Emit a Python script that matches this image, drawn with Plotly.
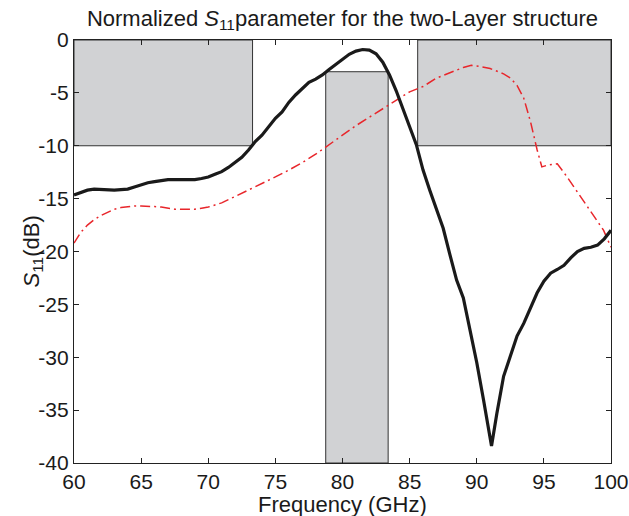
import plotly.graph_objects as go

# Measured S11 (black solid)
freq_meas = [60, 60.5, 61, 61.5, 62, 62.5, 63, 63.5, 64, 64.5, 65, 65.5, 66, 66.5, 67, 67.5,
             68, 68.5, 69, 69.5, 70, 70.5, 71, 71.5, 72, 72.5, 73, 73.5, 74, 74.5, 75, 75.5,
             76, 76.5, 77, 77.5, 78, 78.5, 79, 79.5, 80, 80.5, 81, 81.5, 82, 82.5, 83, 83.5,
             84, 84.5, 85, 85.5, 86, 86.5, 87, 87.5, 88, 88.5, 89, 89.5, 90, 90.5, 91, 91.1,
             91.5, 92, 92.5, 93, 93.5, 94, 94.5, 95, 95.5, 96, 96.5, 97, 97.5, 98, 98.5, 99,
             99.5, 100]
s11_meas = [-14.65, -14.4, -14.2, -14.1, -14.15, -14.2, -14.2, -14.15, -14.1, -13.9, -13.7,
            -13.5, -13.4, -13.3, -13.2, -13.2, -13.2, -13.2, -13.2, -13.1, -12.95, -12.7,
            -12.45, -12.05, -11.6, -11.1, -10.4, -9.6, -9.0, -8.2, -7.4, -6.8, -5.9, -5.2,
            -4.6, -4.0, -3.7, -3.3, -2.8, -2.3, -1.8, -1.35, -1.05, -0.9, -0.95, -1.3, -2.1,
            -3.3, -4.8, -6.6, -8.2, -9.9, -12.3, -14.2, -16.0, -17.8, -20.3, -22.7, -24.4,
            -27.4, -30.5, -34.0, -37.6, -38.4, -35.3, -31.8, -29.9, -28.0, -26.8, -25.3,
            -23.9, -22.8, -22.05, -21.7, -21.3, -20.6, -20.0, -19.7, -19.6, -19.4, -18.8, -18.0]

# Simulated S11 (red dash-dot)
freq_sim = [60, 60.5, 61, 61.5, 62, 62.5, 63, 63.5, 64, 64.5, 65, 65.5, 66, 66.5, 67, 67.5,
            68, 68.5, 69, 69.5, 70, 70.5, 71, 71.5, 72, 72.5, 73, 73.5, 74, 75, 76, 77, 78,
            79, 80, 81, 82, 83, 84, 85, 86, 87, 88, 89, 89.6, 90, 91, 92, 92.5, 93, 93.5, 94,
            94.5, 94.85, 95.35, 96, 96.7, 97.7, 98.7, 99.45, 100]
s11_sim = [-19.2, -18.2, -17.5, -17.0, -16.6, -16.3, -16.0, -15.85, -15.75, -15.7, -15.7,
           -15.7, -15.75, -15.8, -15.9, -16.0, -16.0, -16.0, -16.0, -15.9, -15.8, -15.6,
           -15.4, -15.1, -14.8, -14.5, -14.2, -13.9, -13.6, -12.95, -12.3, -11.6, -10.8,
           -9.9, -9.0, -8.1, -7.3, -6.5, -5.7, -4.9, -4.4, -3.6, -3.1, -2.6, -2.4, -2.45,
           -2.7, -3.2, -3.6, -4.3, -5.5, -7.7, -10.4, -12.0, -11.8, -11.7, -12.9, -14.8,
           -16.7, -18.0, -19.6]

# Spec mask regions (grey boxes)
mask_f_lo = [60, 78.75, 85.6]
mask_f_hi = [73.3, 83.4, 100]
mask_db_top = [0, -3, 0]
mask_db_bot = [-10, -40, -10]

x_ticks = [60, 65, 70, 75, 80, 85, 90, 95, 100]
x_ticktext = ["60", "65", "70", "75", "80", "85", "90", "95", "100"]
y_ticks = [0, -5, -10, -15, -20, -25, -30, -35, -40]
y_ticktext = ["0", "-5", "-10", "-15", "-20", "-25", "-30", "-35", "-40"]

FONT = "Liberation Sans, Arial, sans-serif"
TXT = "#1a1a1a"
W, H = 629, 516
L, R, T, B = 74, 18, 40, 53

fig = go.Figure()

shapes = []
for x0, x1, y0, y1 in zip(mask_f_lo, mask_f_hi, mask_db_bot, mask_db_top):
    shapes.append(dict(type="rect", xref="x", yref="y", x0=x0, x1=x1, y0=y0, y1=y1,
                       fillcolor="#d1d2d4", line=dict(color="#333333", width=1),
                       layer="below"))

fig.add_trace(go.Scatter(x=freq_sim, y=s11_sim, mode="lines",
                         line=dict(color="#e8262b", width=1.5, dash="10px,4px,2px,4px"),
                         showlegend=False))
fig.add_trace(go.Scatter(x=freq_meas, y=s11_meas, mode="lines",
                         line=dict(color="#1a1a1a", width=3.2),
                         showlegend=False))

plot_w = W - L - R
plot_h = H - T - B

annotations = [
    dict(text="Frequency (GHz)", xref="paper", yref="paper", x=0.5,
         y=-(504 - (H - B)) / plot_h, xanchor="center", yanchor="middle",
         showarrow=False, font=dict(family=FONT, size=22, color=TXT)),
    dict(text="<i>S</i><sub>11</sub>(dB)", xref="paper", yref="paper",
         x=(32 - L) / plot_w, y=0.5, xanchor="center", yanchor="middle",
         textangle=-90, showarrow=False, font=dict(family=FONT, size=22, color=TXT)),
]

fig.update_layout(
    width=W, height=H,
    margin=dict(l=L, r=R, t=T, b=B, autoexpand=False),
    paper_bgcolor="white", plot_bgcolor="white",
    font=dict(family=FONT, size=21, color=TXT),
    shapes=shapes,
    annotations=annotations,
    hovermode=False,
    title=dict(text="Normalized <i>S</i><sub>11</sub>parameter for the two-Layer structure",
               x=0.5, xref="paper", xanchor="center",
               y=1 - 18 / H, yref="container", yanchor="middle",
               font=dict(family=FONT, size=22, color=TXT)),
    xaxis=dict(range=[60, 100], tickvals=x_ticks, ticktext=x_ticktext,
               automargin=False,
               showgrid=False, zeroline=False, showline=True, linecolor="#222222",
               linewidth=1.2, mirror="ticks", ticks="inside", ticklen=5,
               tickcolor="#222222", tickfont=dict(family=FONT, size=21, color=TXT)),
    yaxis=dict(range=[-40, 0], tickvals=y_ticks, ticktext=y_ticktext,
               automargin=False,
               showgrid=False, zeroline=False, showline=True, linecolor="#222222",
               linewidth=1.2, mirror="ticks", ticks="inside", ticklen=5,
               tickcolor="#222222", tickfont=dict(family=FONT, size=21, color=TXT)),
)

fig.write_html("out.html",
               config={"displayModeBar": False, "staticPlot": True},
               post_script="document.body.style.margin='0';"
                           "document.body.style.overflow='hidden';")
